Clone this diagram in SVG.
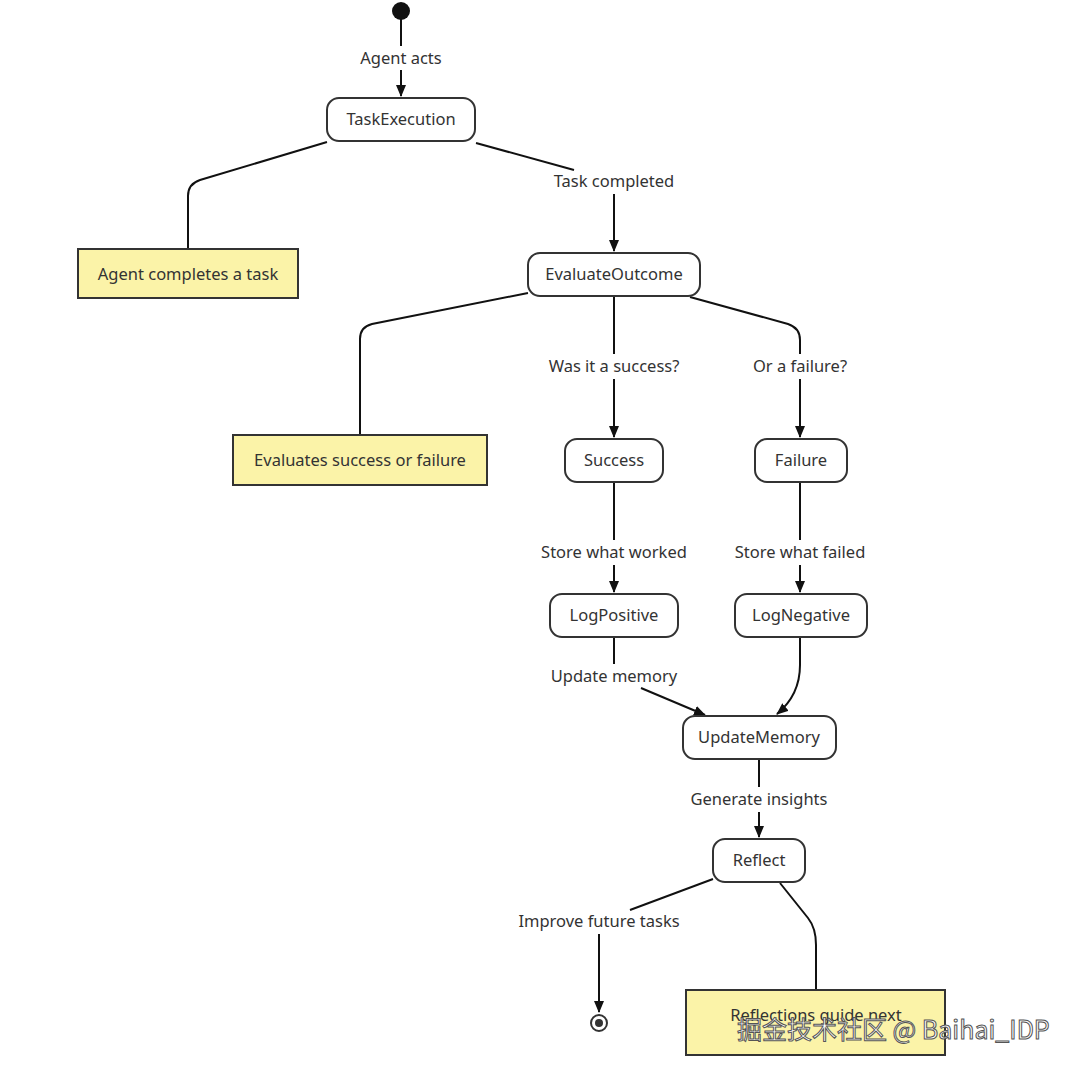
<svg xmlns="http://www.w3.org/2000/svg" width="1080" height="1070" viewBox="0 0 1080 1070">
<style>
.node rect{fill:#ffffff;stroke:#333333;stroke-width:2}
.note rect{fill:#fbf3a8;stroke:#333333;stroke-width:2}
text{font-family:"Noto Sans","DejaVu Sans",sans-serif;font-size:16.5px;fill:#333333;text-anchor:middle}
.edge{fill:none;stroke:#111111;stroke-width:2}
.wm{font-family:"Noto Sans CJK SC","Noto Sans",sans-serif;font-size:25px;fill:#ffffff;stroke:#555555;stroke-width:1;text-anchor:start}
</style>
<defs>
<marker id="arr" viewBox="0 0 12 10" refX="11" refY="5" markerWidth="12" markerHeight="10" orient="auto" markerUnits="userSpaceOnUse">
<path d="M0,0 L12,5 L0,10 z" fill="#111111"/>
</marker>
</defs>
<rect width="1080" height="1070" fill="#ffffff"/>
<g id="connectors">
<line class="edge" x1="401" y1="18" x2="401" y2="46"/>
<line class="edge" x1="401" y1="70" x2="401" y2="96" marker-end="url(#arr)"/>
<path class="edge" d="M327,142 L200,180 Q188,184 188,196 L188,249"/>
<path class="edge" d="M476,143 L574,170"/>
<line class="edge" x1="614" y1="194" x2="614" y2="251" marker-end="url(#arr)"/>
<path class="edge" d="M528,293 L372,324 Q360,327 360,339 L360,435"/>
<line class="edge" x1="614" y1="297" x2="614" y2="354"/>
<line class="edge" x1="614" y1="379" x2="614" y2="437" marker-end="url(#arr)"/>
<path class="edge" d="M690,297 L788,324 Q800,328 800,340 L800,354"/>
<line class="edge" x1="800" y1="379" x2="800" y2="437" marker-end="url(#arr)"/>
<line class="edge" x1="614" y1="483" x2="614" y2="540"/>
<line class="edge" x1="614" y1="565" x2="614" y2="592" marker-end="url(#arr)"/>
<line class="edge" x1="800" y1="483" x2="800" y2="540"/>
<line class="edge" x1="800" y1="565" x2="800" y2="592" marker-end="url(#arr)"/>
<line class="edge" x1="614" y1="638" x2="614" y2="664"/>
<line class="edge" x1="641" y1="688" x2="705" y2="715" marker-end="url(#arr)"/>
<path class="edge" d="M800,638 L800,665 Q800,695 777,714" marker-end="url(#arr)"/>
<line class="edge" x1="759" y1="760" x2="759" y2="787"/>
<line class="edge" x1="759" y1="812" x2="759" y2="837" marker-end="url(#arr)"/>
<path class="edge" d="M713,879 L630,910"/>
<line class="edge" x1="599" y1="934" x2="599" y2="1012" marker-end="url(#arr)"/>
<path class="edge" d="M780,883 L808,918 Q816,928 816,945 L816,990"/>
</g>
<g id="labels">
<text x="401" y="64">Agent acts</text>
<text x="614" y="187">Task completed</text>
<text x="614" y="372">Was it a success?</text>
<text x="800" y="372">Or a failure?</text>
<text x="614" y="558">Store what worked</text>
<text x="800" y="558">Store what failed</text>
<text x="614" y="682">Update memory</text>
<text x="759" y="805">Generate insights</text>
<text x="599" y="927">Improve future tasks</text>
</g>
<g id="start"><circle cx="401" cy="11" r="9" fill="#111111"/></g>
<g id="end"><circle cx="599" cy="1023" r="8" fill="#ffffff" stroke="#333333" stroke-width="2"/><circle cx="599" cy="1023" r="4" fill="#333333"/></g>
<g id="TaskExecution" class="node"><rect x="327" y="98" width="148" height="43" rx="12"/><text x="401" y="125">TaskExecution</text></g>
<g id="note1" class="note"><rect x="78" y="249" width="220" height="49"/><text x="188" y="280">Agent completes a task</text></g>
<g id="EvaluateOutcome" class="node"><rect x="528" y="253" width="172" height="43" rx="12"/><text x="614" y="280">EvaluateOutcome</text></g>
<g id="note2" class="note"><rect x="233" y="435" width="254" height="50"/><text x="360" y="466">Evaluates success or failure</text></g>
<g id="Success" class="node"><rect x="565" y="439" width="98" height="43" rx="12"/><text x="614" y="466">Success</text></g>
<g id="Failure" class="node"><rect x="755" y="439" width="92" height="43" rx="12"/><text x="801" y="466">Failure</text></g>
<g id="LogPositive" class="node"><rect x="550" y="594" width="128" height="43" rx="12"/><text x="614" y="621">LogPositive</text></g>
<g id="LogNegative" class="node"><rect x="735" y="594" width="132" height="43" rx="12"/><text x="801" y="621">LogNegative</text></g>
<g id="UpdateMemory" class="node"><rect x="683" y="716" width="153" height="43" rx="12"/><text x="759" y="743">UpdateMemory</text></g>
<g id="Reflect" class="node"><rect x="713" y="839" width="92" height="43" rx="12"/><text x="759" y="866">Reflect</text></g>
<g id="note3" class="note"><rect x="686" y="990" width="259" height="65"/><text x="816" y="1021">Reflections guide next</text></g>
<text class="wm" x="737" y="1039">掘金技术社区 @ Baihai_IDP</text>
</svg>
